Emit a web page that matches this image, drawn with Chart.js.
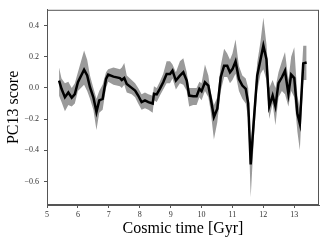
<!DOCTYPE html>
<html>
<head>
<meta charset="utf-8">
<script src="https://cdn.jsdelivr.net/npm/chart.js@4"></script>
<style>
  html, body { margin: 0; padding: 0; background: #fff; }
  #wrap { width: 327px; height: 243px; }
</style>
</head>
<body>
<div id="wrap"><canvas id="chart" width="327" height="243"></canvas></div>
<script>
// cosmic time of each sample, in Gyr
const times = [5.39, 5.47, 5.58, 5.69, 5.8, 5.9, 6.0, 6.2, 6.3, 6.39, 6.5, 6.6, 6.69, 6.8, 6.91, 6.98,
  7.15, 7.36, 7.42, 7.5, 7.58, 7.74, 7.85, 7.95, 8.06, 8.17, 8.28, 8.42, 8.46, 8.55, 8.65, 8.76,
  8.87, 8.98, 9.06, 9.17, 9.3, 9.41, 9.52, 9.6, 9.73, 9.84, 9.93, 10.0, 10.11, 10.22, 10.29, 10.4,
  10.51, 10.62, 10.73, 10.83, 10.92, 11.0, 11.1, 11.21, 11.32, 11.43, 11.51, 11.59, 11.7, 11.8,
  11.91, 12.0, 12.1, 12.19, 12.3, 12.39, 12.49, 12.6, 12.7, 12.81, 12.9, 13.0, 13.1, 13.18, 13.29, 13.4];

// median PC13 score
const score = [0.047, -0.006, -0.06, -0.03, -0.063, -0.04, 0.036, 0.116, 0.08, 0.004, -0.06, -0.155, -0.08, -0.07, 0.057, 0.085,
  0.072, 0.063, 0.05, 0.063, 0.025, 0.0, -0.017, -0.049, -0.091, -0.08, -0.091, -0.1, -0.038, -0.042, -0.006, 0.036,
  0.089, 0.089, 0.11, 0.047, 0.078, 0.1, 0.047, -0.049, -0.053, -0.053, -0.006, -0.021, 0.036, 0.015, -0.06, -0.186,
  -0.133, 0.068, 0.142, 0.142, 0.1, 0.12, 0.169, 0.057, 0.015, -0.006, -0.1, -0.49, -0.186, 0.078,
  0.184, 0.27, 0.184, -0.118, -0.049, -0.118, 0.03, 0.068, 0.11, -0.038, 0.085, 0.063, -0.165, -0.229, 0.157, 0.163];

// upper and lower edge of the shaded spread
const upper = [0.13, 0.06, 0.03, 0.04, 0.0, 0.03, 0.1, 0.24, 0.18, 0.08, 0.0, -0.07, -0.02, 0.02, 0.1, 0.12,
  0.13, 0.12, 0.13, 0.16, 0.08, 0.05, 0.03, 0.0, -0.04, -0.03, -0.04, -0.05, 0.01, 0.0, 0.04, 0.09,
  0.17, 0.17, 0.15, 0.1, 0.17, 0.19, 0.1, 0.0, 0.0, 0.0, 0.04, 0.03, 0.15, 0.08, -0.02, -0.11,
  -0.06, 0.14, 0.25, 0.22, 0.18, 0.22, 0.31, 0.14, 0.08, 0.06, 0.0, -0.38, -0.1, 0.16,
  0.3, 0.45, 0.28, 0.0, 0.05, 0.0, 0.1, 0.17, 0.23, 0.05, 0.2, 0.26, -0.05, -0.13, 0.27, 0.27];
const lower = [-0.05, -0.09, -0.15, -0.11, -0.12, -0.1, -0.02, 0.02, -0.02, -0.07, -0.14, -0.27, -0.16, -0.14, 0.0, 0.04,
  0.02, 0.01, 0.0, 0.02, -0.03, -0.04, -0.06, -0.1, -0.14, -0.13, -0.14, -0.16, -0.08, -0.09, -0.05, -0.01,
  0.03, 0.03, 0.06, -0.01, 0.03, 0.02, -0.02, -0.12, -0.11, -0.11, -0.06, -0.08, -0.02, -0.06, -0.14, -0.33,
  -0.22, -0.02, 0.07, 0.07, 0.03, 0.05, 0.09, -0.02, -0.07, -0.1, -0.2, -0.7, -0.3, -0.02,
  0.09, 0.12, 0.05, -0.2, -0.1, -0.24, -0.06, -0.02, -0.04, -0.12, -0.02, -0.06, -0.28, -0.4, 0.05, 0.05];

const xTicks = [5, 6, 7, 8, 9, 10, 11, 12, 13];
const yTicks = [-0.6, -0.4, -0.2, 0.0, 0.2, 0.4];

const pts = arr => times.map((t, i) => ({ x: t, y: arr[i] }));
const serif = '"Liberation Serif", "DejaVu Serif", serif';

// matplotlib-like box around the plot
const frame = {
  id: 'frame',
  afterDraw(chart) {
    const a = chart.chartArea, ctx = chart.ctx;
    ctx.save();
    ctx.strokeStyle = '#555';
    ctx.lineWidth = 1;
    ctx.strokeRect(a.left + 0.5, a.top + 0.5, a.right - a.left - 1, a.bottom - a.top - 1);
    ctx.restore();
  }
};

new Chart(document.getElementById('chart'), {
  type: 'line',
  data: {
    datasets: [
      { data: pts(upper), borderWidth: 0, pointRadius: 0, fill: '+1', backgroundColor: '#9a9a9a', order: 2 },
      { data: pts(lower), borderWidth: 0, pointRadius: 0, fill: false, order: 2 },
      { data: pts(score), borderColor: '#000', borderWidth: 2.5, pointRadius: 0, fill: false, order: 1 }
    ]
  },
  options: {
    responsive: false,
    animation: false,
    layout: { padding: { top: 8, right: 8, left: 0, bottom: 0 } },
    plugins: { legend: { display: false }, tooltip: { enabled: false } },
    scales: {
      x: {
        type: 'linear', min: 5, max: 13.8,
        afterBuildTicks: s => { s.ticks = xTicks.map(v => ({ value: v })); },
        afterFit: s => { s.height = 38; },
        grid: { drawOnChartArea: false, drawTicks: true, tickLength: 3, color: '#555' },
        border: { display: true, color: '#555' },
        ticks: { color: '#333', font: { family: serif, size: 8 }, padding: 2, maxRotation: 0,
                 callback: v => String(v) },
        title: { display: true, text: 'Cosmic time [Gyr]', color: '#000',
                 font: { family: serif, size: 16, lineHeight: 1.2 }, padding: { top: 0, bottom: 5 } }
      },
      y: {
        min: -0.75, max: 0.5,
        afterBuildTicks: s => { s.ticks = yTicks.map(v => ({ value: v })); },
        afterFit: s => { s.width = 47; },
        grid: { drawOnChartArea: false, drawTicks: true, tickLength: 3, color: '#555' },
        border: { display: true, color: '#555' },
        ticks: { color: '#333', font: { family: serif, size: 8 }, padding: 5,
                 callback: v => v.toFixed(1).replace('-', '\u2212') },
        title: { display: true, text: 'PC13 score', color: '#000',
                 font: { family: serif, size: 16, lineHeight: 1.2 }, padding: { top: 4, bottom: 0 } }
      }
    }
  },
  plugins: [frame]
});
</script>
</body>
</html>
